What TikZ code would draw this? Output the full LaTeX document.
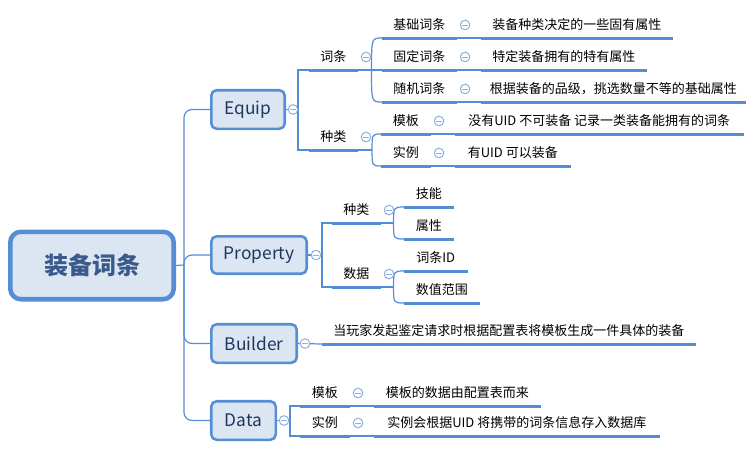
\documentclass[tikz,border=0pt]{standalone}
\usepackage{fontspec}
\setmainfont{Noto Sans CJK SC}
\usetikzlibrary{calc}
\definecolor{lc}{RGB}{84,141,212}
\definecolor{cc}{RGB}{140,178,225}
\definecolor{bfill}{RGB}{220,230,242}
\definecolor{bdraw}{RGB}{85,142,213}
\definecolor{btext}{RGB}{30,55,95}
\definecolor{rtext}{RGB}{58,90,140}
\newcommand\myfork[2]{% #1 parent, #2 list of children
  \foreach \c in {#2}{\draw[conn] (#1) .. controls (#1 |- \c.south west) .. (\c.south west);}}
\begin{document}
\begin{tikzpicture}[x=0.75pt,y=-0.75pt,
 conn/.style={draw=lc,line width=0.9pt},
 ul/.style={draw=lc,line width=2.25pt},
 box/.style={draw=bdraw,fill=bfill,line width=1.9pt,rounded corners=4pt,inner sep=0pt,font=\fontsize{13pt}{15pt}\selectfont,text=btext},
 leaf/.style={font=\fontsize{9.75pt}{12pt}\selectfont,text=black,text height=7.5pt,text depth=0pt,inner xsep=0pt,inner ysep=6pt,minimum width=#1,anchor=south west},
 tog/.style={circle,draw=cc,fill=white,line width=0.75pt,minimum size=7.2pt,inner sep=0pt,
   path picture={\draw[cc,line width=0.75pt]([xshift=-2.2pt]path picture bounding box.center)--([xshift=2.2pt]path picture bounding box.center);}}
]
\useasboundingbox (0,0) rectangle (746,468);

% main boxes
\node[draw=bdraw,fill=bfill,line width=3.4pt,rounded corners=8pt,minimum width=122.6pt,minimum height=50.6pt,inner sep=0pt,
      font=\fontsize{18pt}{20pt}\selectfont\bfseries,text=rtext] (root) at (92,265.5) {装备词条};
\node[box,minimum width=55.1pt,minimum height=28.9pt] (equip) at (248,109.5) {Equip};
\node[box,minimum width=71.6pt,minimum height=28.1pt] (prop) at (259,255) {Property};
\node[box,minimum width=64.1pt,minimum height=28.9pt] (build) at (254,343.5) {Builder};
\node[box,minimum width=48.4pt,minimum height=28.9pt] (data) at (243.5,420.5) {Data};

% Equip leaves
\node[leaf=36pt] (e1) at (309,70) {词条};
\node[leaf=36pt] (e2) at (309,150) {种类};
\node[leaf=55.5pt] (e11) at (382,38) {基础词条};
\node[leaf=55.5pt] (e12) at (382,70) {固定词条};
\node[leaf=55.5pt] (e13) at (382,102) {随机词条};
\node[leaf=143.25pt] (d11) at (481,38) {装备种类决定的一些固有属性};
\node[leaf=123.75pt] (d12) at (481,70) {特定装备拥有的特有属性};
\node[leaf=198pt] (d13) at (481,102) {根据装备的品级，挑选数量不等的基础属性};
\node[leaf=36.75pt] (e21) at (381,134) {模板};
\node[leaf=36.75pt] (e22) at (381,166) {实例};
\node[leaf=216pt] (d21) at (455,134) {没有UID 不可装备 记录一类装备能拥有的词条};
\node[leaf=86.25pt] (d22) at (455,166) {有UID 可以装备};

% Property leaves
\node[leaf=36pt] (p1) at (332,223) {种类};
\node[leaf=36pt] (p2) at (332,287) {数据};
\node[leaf=36.75pt] (p11) at (404,207) {技能};
\node[leaf=36.75pt] (p12) at (404,239) {属性};
\node[leaf=47.25pt] (p21) at (404,271) {词条ID};
\node[leaf=56.25pt] (p22) at (404,303) {数值范围};

% Builder leaf
\node[leaf=279.75pt] (b1) at (322,344) {当玩家发起鉴定请求时根据配置表将模板生成一件具体的装备};

% Data leaves
\node[leaf=36.75pt] (a1) at (300,406) {模板};
\node[leaf=36.75pt] (a2) at (300,436) {实例};
\node[leaf=124.5pt] (da1) at (374,406) {模板的数据由配置表而来};
\node[leaf=213.75pt] (da2) at (374,436) {实例会根据UID 将携带的词条信息存入数据库};

% trunk
\coordinate (hub) at (184,265);
\draw[conn] (root.east) -- (hub);
\foreach \b in {equip,prop,build,data}{\draw[conn,rounded corners=6pt] (hub) |- (\b.west);}

% Equip branch
\coordinate (ej) at (298,109.5);
\draw[conn] (equip.east) -- (ej);
\draw[conn] (e1.south west) -| (ej) |- (e2.south west);
\draw[conn] (e1.south east) -- ++(14,0) coordinate (e1b);
\myfork{e1b}{e11,e13}
\draw[conn] (e1b) -- (e12.south west);
\draw[conn] (e2.south east) -- ++(14.5,0) coordinate (e2b);
\myfork{e2b}{e21,e22}
\foreach \l/\d in {e11/d11,e12/d12,e13/d13,e21/d21,e22/d22}{\draw[conn] (\l.south east) -- (\d.south west);}

% Property branch
\coordinate (pj) at (322,255);
\draw[conn] (prop.east) -- (pj);
\draw[conn] (p1.south west) -| (pj) |- (p2.south west);
\draw[conn] (p1.south east) -- ++(13,0) coordinate (p1b);
\myfork{p1b}{p11,p12}
\draw[conn] (p2.south east) -- ++(13,0) coordinate (p2b);
\myfork{p2b}{p21,p22}

% Builder branch
\draw[conn] (build.east) -- (b1.south west);

% Data branch
\coordinate (aj) at (290,420.5);
\draw[conn] (data.east) -- (aj);
\draw[conn] (a1.south west) -| (aj) |- (a2.south west);
\foreach \l/\d in {a1/da1,a2/da2}{\draw[conn] (\l.south east) -- (\d.south west);}

% underlines
\foreach \n in {e1,e2,e11,e12,e13,d11,d12,d13,e21,e22,d21,d22,p1,p2,p11,p12,p21,p22,b1,a1,a2,da1,da2}
  {\draw[ul] (\n.south west) -- (\n.south east);}

% toggles
\node[tog] (te) at ($(equip.east)+(7,0)$) {};
\node[tog] (tp) at ($(prop.east)+(8,0)$) {};
\node[tog] (tb) at ($(build.east)+(7,0)$) {};
\node[tog] (td) at ($(data.east)+(7,0)$) {};
\foreach \n in {e1,e2,e11,e12,e13,e21,e22,p1,p2,a1,a2}
  {\node[tog] (t\n) at ($(\n.south east)+(8.5,-13)$) {};}
\end{tikzpicture}
\end{document}
